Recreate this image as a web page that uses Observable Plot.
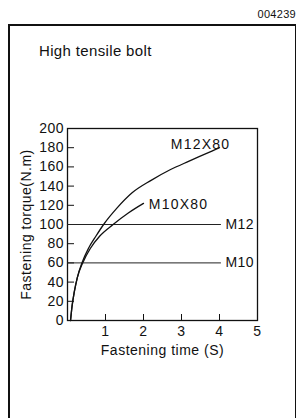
<!DOCTYPE html>
<html>
<head>
<meta charset="utf-8">
<script src="https://cdn.jsdelivr.net/npm/d3@7"></script>
<script src="https://cdn.jsdelivr.net/npm/@observablehq/plot@0.6"></script>
<style>
  html, body { margin: 0; padding: 0; background: #fff; overflow: hidden; }
  #page { position: relative; width: 297px; height: 418px; overflow: hidden; font-family: "Liberation Sans", Arial, sans-serif; color: #111; }
  #border { position: absolute; left: 8px; top: 24px; width: 288px; height: 500px; box-sizing: border-box; border: 2px solid #111; border-right-width: 1.5px; }
  #code { position: absolute; right: 1px; top: 8px; font-size: 11px; letter-spacing: 0.3px; white-space: nowrap; }
  #title { position: absolute; left: 39px; top: 42px; font-size: 15px; letter-spacing: 0.35px; white-space: nowrap; }
  #chart { position: absolute; left: 0; top: 100px; }
  #chart svg text { letter-spacing: 0.5px; }
</style>
</head>
<body>
<div id="page">
  <div id="border"></div>
  <div id="code">004239</div>
  <div id="title">High tensile bolt</div>
  <div id="chart"></div>
</div>
<script>
// Fastening time (s) and torque (N.m)
const m12x80Time   = [0.08, 0.12, 0.18, 0.26, 0.38, 0.55, 0.75, 0.95, 1.3, 1.7, 2.2, 2.7, 3.2, 3.6, 4.0];
const m12x80Torque = [0, 15, 30, 45, 60, 75, 88, 100, 117, 133, 146, 157, 166, 173, 180];
const m10x80Time   = [0.08, 0.12, 0.18, 0.26, 0.4, 0.6, 0.85, 1.2, 1.6, 2.0];
const m10x80Torque = [0, 15, 30, 45, 60, 75, 88, 100, 112, 122];

// Reference torque levels
const refNames  = ["M12", "M10"];
const refTorque = [100, 60];
const refEnd    = [4.05, 4.05];

// Curve labels
const curveNames  = ["M12X80", "M10X80"];
const curveLabelX = [2.72, 2.14];
const curveLabelY = [183, 121];

const xTicks = [1, 2, 3, 4, 5];
const yTicks = [0, 20, 40, 60, 80, 100, 120, 140, 160, 180, 200];

const curves = [
  ...m12x80Time.map((t, i) => ({series: "M12X80", time: t, torque: m12x80Torque[i]})),
  ...m10x80Time.map((t, i) => ({series: "M10X80", time: t, torque: m10x80Torque[i]}))
];
const refs = refNames.map((n, i) => ({name: n, torque: refTorque[i], end: refEnd[i]}));
const curveLabels = curveNames.map((n, i) => ({name: n, x: curveLabelX[i], y: curveLabelY[i]}));

const chart = Plot.plot({
  width: 297,
  height: 270,
  marginLeft: 67,
  marginRight: 40,
  marginTop: 28,
  marginBottom: 50,
  style: {fontFamily: "Liberation Sans, Arial, sans-serif", fontSize: "14px", color: "#111", background: "transparent"},
  x: {domain: [0, 5]},
  y: {domain: [0, 200]},
  marks: [
    Plot.frame({stroke: "#111", strokeWidth: 1.3}),
    Plot.axisX({ticks: xTicks, tickSize: -6, tickPadding: 12, tickFormat: d => String(d),
      label: "Fastening time (S)", labelAnchor: "center", labelOffset: 34, labelArrow: "none"}),
    Plot.axisY({ticks: yTicks, tickSize: -7, tickPadding: 10.5, tickFormat: d => String(d),
      label: "Fastening torque(N.m)", labelAnchor: "center", labelOffset: 46, labelArrow: "none"}),
    Plot.ruleY(refs, {y: "torque", x1: 0, x2: "end", stroke: "#222", strokeWidth: 1}),
    Plot.text(refs, {x: "end", y: "torque", text: "name", textAnchor: "start", dx: 4, fontSize: 14}),
    Plot.line(curves, {x: "time", y: "torque", z: "series", curve: "monotone-x", stroke: "#111", strokeWidth: 1.3}),
    Plot.text(curveLabels, {x: "x", y: "y", text: "name", textAnchor: "start", fontSize: 14, style: "letter-spacing:1px"})
  ]
});
chart.querySelectorAll("text").forEach(t => { if (/^M1[02]X80$/.test(t.textContent)) t.style.letterSpacing = "1.2px"; });
document.getElementById("chart").appendChild(chart);
</script>
</body>
</html>
